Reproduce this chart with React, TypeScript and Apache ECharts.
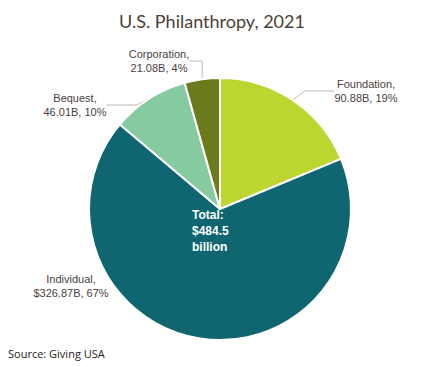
import React, { useEffect, useRef } from "react";
import * as echarts from "echarts";

const categories = ["Foundation", "Individual", "Bequest", "Corporation"];
const values = [90.88, 326.87, 46.01, 21.08];
const valueLabels = ["90.88B", "$326.87B", "46.01B", "21.08B"];
const percents = ["19%", "67%", "10%", "4%"];
const colors = ["#bcd531", "#0f6670", "#86cba0", "#6b7a1c"];

export default function App() {
  const ref = useRef<HTMLDivElement>(null);
  useEffect(() => {
    const chart = echarts.init(ref.current!, null, { renderer: "svg" });
    const labelPos: any[] = [
      { x: 366, y: 91 },
      { x: 71, y: 286 },
      { x: 75, y: 105 },
      { x: 159, y: 61 },
    ];
    chart.setOption({
      animation: false,
      backgroundColor: "#ffffff",
      title: {
        text: "U.S. Philanthropy, 2021",
        left: "center",
        top: 7,
        textStyle: { fontFamily: "Lato", fontWeight: "normal", fontSize: 18, color: "#4a3f36" },
      },
      graphic: [
        {
          type: "text",
          left: 192,
          top: 207,
          z: 100,
          style: {
            text: "Total:\n$484.5\nbillion",
            fill: "#ffffff",
            fontFamily: "Liberation Sans",
            fontWeight: "bold",
            fontSize: 12,
            lineHeight: 16,
          },
        },
        {
          type: "text",
          left: 8,
          top: 348,
          z: 100,
          style: {
            text: "Source: Giving USA",
            fill: "#222222",
            fontFamily: "Open Sans",
            fontSize: 11,
          },
        },
      ],
      series: [
        {
          type: "pie",
          center: [220, 209],
          radius: [0, 131],
          startAngle: 90,
          clockwise: true,
          itemStyle: { borderColor: "#ffffff", borderWidth: 2 },
          label: {
            show: true,
            position: "outside",
            fontFamily: "Liberation Sans",
            fontSize: 11,
            lineHeight: 14,
            color: "#4a4141",
            formatter: (p: any) => `${categories[p.dataIndex]},\n${valueLabels[p.dataIndex]}, ${percents[p.dataIndex]}`,
          },
          labelLine: { show: true, lineStyle: { color: "#c2b6b0", width: 1 } },
          labelLayout: (params: any) => {
            const lp = labelPos[params.dataIndex];
            return { x: lp.x, y: lp.y, align: "center", verticalAlign: "middle" };
          },
          data: categories.map((c, i) => ({
            name: c,
            value: values[i],
            itemStyle: { color: colors[i] },
            labelLine: { show: i !== 1 },
          })),
        },
      ],
    });
    return () => chart.dispose();
  }, []);
  return <div ref={ref} style={{ position: "fixed", left: 0, top: 0, width: 424, height: 367 }} />;
}
